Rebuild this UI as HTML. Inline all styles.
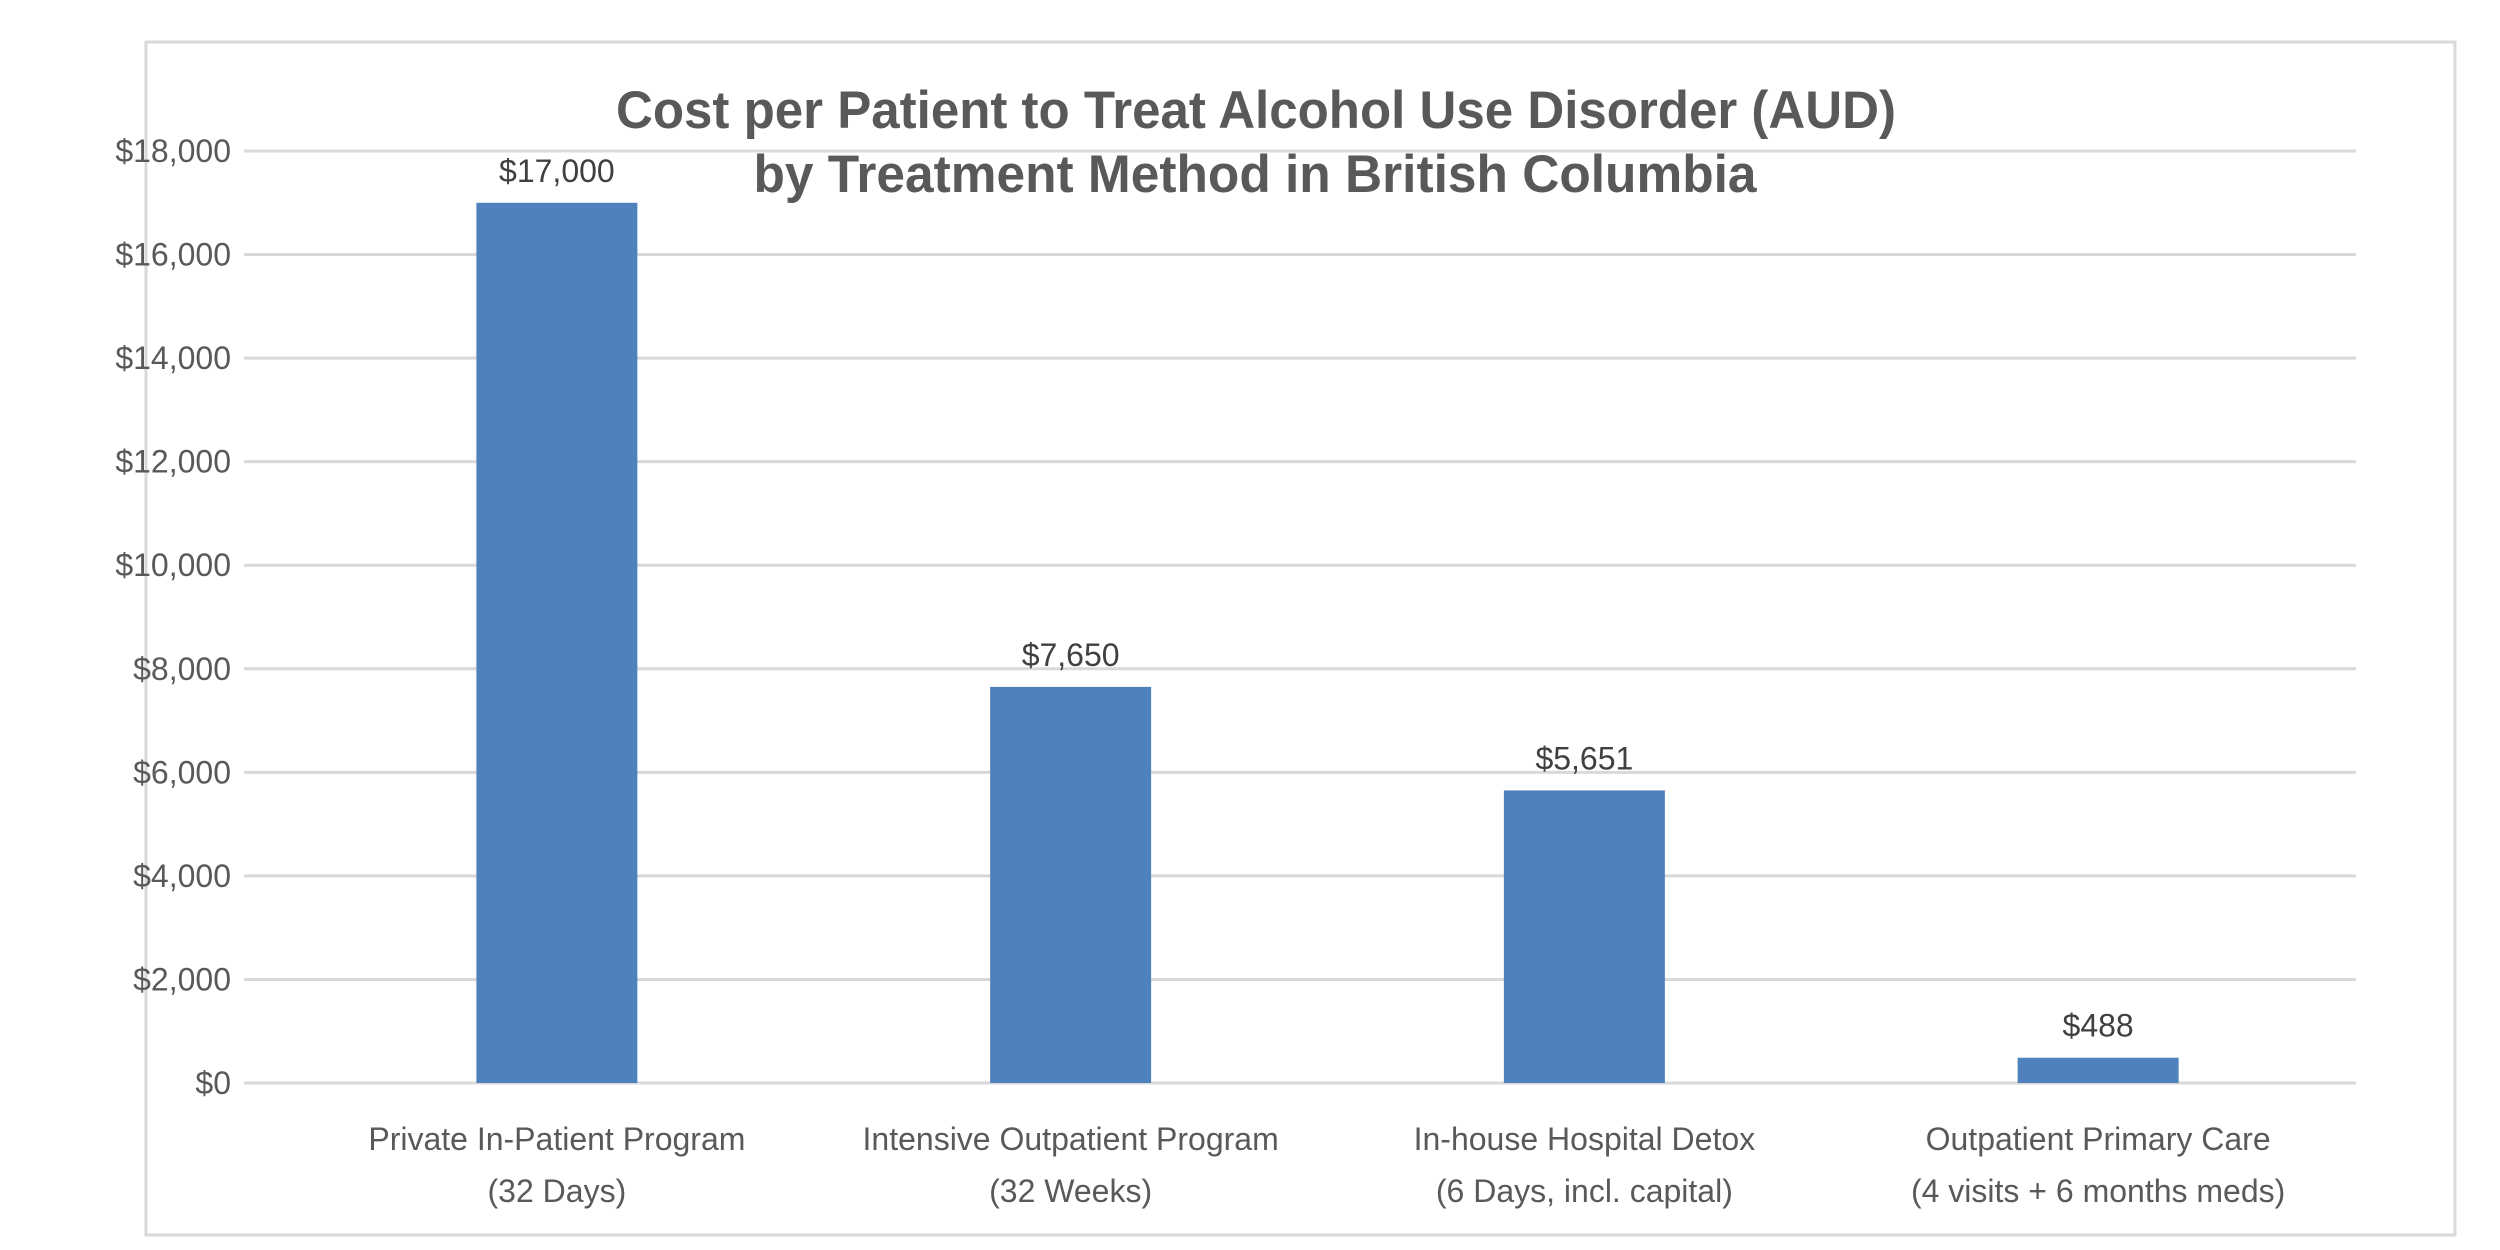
<!DOCTYPE html>
<html><head><meta charset="utf-8"><style>
html,body{margin:0;padding:0;background:#fff;}
svg{display:block;font-family:"Liberation Sans",Arial,sans-serif;}
</style></head><body>
<svg id="chart" width="2500" height="1250" viewBox="0 0 2500 1250" xmlns="http://www.w3.org/2000/svg">
<rect x="146" y="42" width="2309" height="1193" fill="#fff" stroke="#d9d9d9" stroke-width="3"/>
<g id="grid"></g>
<g id="bars"></g>
<g id="labels"></g>
<text x="1256" y="128" text-anchor="middle" font-size="53" font-weight="bold" fill="#595959" textLength="1280" lengthAdjust="spacingAndGlyphs">Cost per Patient to Treat Alcohol Use Disorder (AUD)</text>
<text x="1255" y="192" text-anchor="middle" font-size="53" font-weight="bold" fill="#595959" textLength="1003" lengthAdjust="spacingAndGlyphs">by Treatment Method in British Columbia</text>
</svg>
<script>
const categoriesLine1 = ["Private In-Patient Program","Intensive Outpatient Program","In-house Hospital Detox","Outpatient Primary Care"];
const categoriesLine2 = ["(32 Days)","(32 Weeks)","(6 Days, incl. capital)","(4 visits + 6 months meds)"];
const values = [17000, 7650, 5651, 488];
const valueLabels = ["$17,000","$7,650","$5,651","$488"];
const yTicks = [0,2000,4000,6000,8000,10000,12000,14000,16000,18000];
const yTickLabels = ["$0","$2,000","$4,000","$6,000","$8,000","$10,000","$12,000","$14,000","$16,000","$18,000"];

const NS = "http://www.w3.org/2000/svg";
const gridL = 244, gridR = 2356;
const catL = 300, catR = 2355, y0 = 1083, yTop = 151, yMax = 18000;
const y = v => y0 - (v / yMax) * (y0 - yTop);
const band = (catR - catL) / categoriesLine1.length;
const xc = i => catL + band * (i + 0.5);
const barW = 161;

const grid = document.getElementById('grid');
const bars = document.getElementById('bars');
const labels = document.getElementById('labels');

function mk(tag, attrs, parent, txt) {
  const el = document.createElementNS(NS, tag);
  for (const k in attrs) el.setAttribute(k, attrs[k]);
  if (txt !== undefined) el.textContent = txt;
  parent.appendChild(el);
  return el;
}

yTicks.forEach((t, i) => {
  const ln = mk('line', {x1: gridL, x2: gridR, y1: y(t), y2: y(t), stroke: '#d9d9d9', 'stroke-width': 3}, grid);
  
  
  const tx = mk('text', {x: 231, y: y(t) + 11, 'text-anchor': 'end', 'font-size': 32, fill: '#595959'}, labels, yTickLabels[i]);
  
  
});

values.forEach((v, i) => {
  const r = mk('rect', {x: xc(i) - barW / 2, y: y(v), width: barW, height: y0 - y(v), fill: '#4f81bd'}, bars);
  
  
  const vl = mk('text', {x: xc(i), y: y(v) - 21, 'text-anchor': 'middle', 'font-size': 32, fill: '#404040'}, labels, valueLabels[i]);
  
  
  const c1 = mk('text', {x: xc(i), y: 1150, 'text-anchor': 'middle', 'font-size': 32, fill: '#595959'}, labels, categoriesLine1[i]);
  
  
  const c2 = mk('text', {x: xc(i), y: 1202, 'text-anchor': 'middle', 'font-size': 32, fill: '#595959'}, labels, categoriesLine2[i]);
  
  
});
</script>
</body></html>
